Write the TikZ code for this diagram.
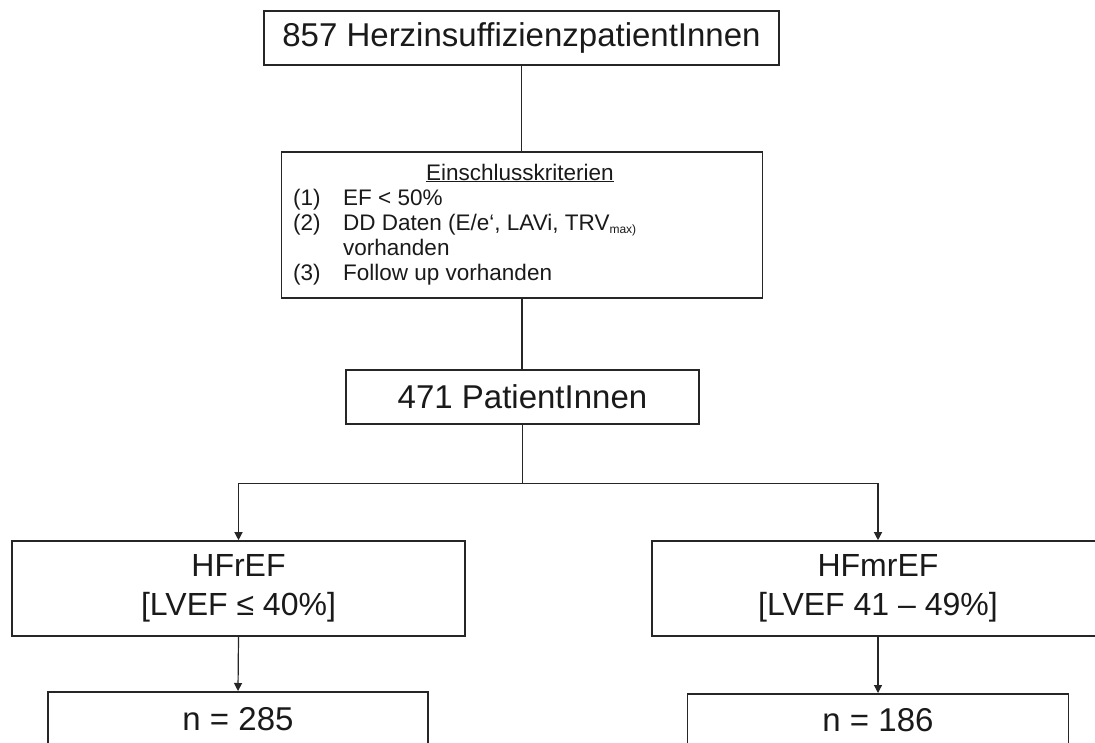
\documentclass[tikz,border=0pt]{standalone}
\usepackage{fontspec}
\setmainfont{Liberation Sans}
\usetikzlibrary{arrows.meta,calc}

\definecolor{boxline}{HTML}{262626}
\definecolor{ink}{HTML}{1A1A1A}

\tikzset{
  box/.style={draw=boxline, line width=1.6pt, inner sep=0pt, fill=white, text=ink},
  link/.style={draw=boxline, line width=1.2pt},
  arr/.style={link, -{Triangle[length=8pt,width=8pt]}},
  bigtext/.style={font=\fontsize{33}{40}\selectfont, text=ink},
  midtext/.style={font=\fontsize{32}{39}\selectfont, text=ink, align=center},
  crittext/.style={font=\fontsize{22.5}{25}\selectfont, text=ink, inner sep=0pt},
}

\begin{document}
\begin{tikzpicture}[x=1pt,y=-1pt]
\useasboundingbox (0,0) rectangle (1095,742);
\fill[white] (0,0) rectangle (1095,742);
\clip (0,0) rectangle (1095,742);

% overall cohort
\node[box, bigtext, minimum width=515pt, minimum height=54pt] (total) at (521.5,38)
  {857 HerzinsuffizienzpatientInnen};

% inclusion criteria
\node[box, minimum width=481pt, minimum height=146pt] (crit) at (522,225) {};
\node[crittext, anchor=base] (crittitle) at (520,180) {\underline{Einschlusskriterien}};
\node[crittext, anchor=base west] (c1num) at (293,205) {(1)};
\node[crittext, anchor=base west] (c1txt) at (343,205) {EF < 50\%};
\node[crittext, anchor=base west] (c2num) at (293,230) {(2)};
\node[crittext, anchor=base west] (c2txt) at (343,230)
  {DD Daten (E/e‘, LAVi, TRV\raisebox{-3.5pt}{\fontsize{12}{12}\selectfont max)}};
\node[crittext, anchor=base west] (c2cont) at (343,255) {vorhanden};
\node[crittext, anchor=base west] (c3num) at (293,280) {(3)};
\node[crittext, anchor=base west] (c3txt) at (343,280) {Follow up vorhanden};

% included patients
\node[box, bigtext, minimum width=353pt, minimum height=54pt] (incl) at (522.5,397)
  {471 PatientInnen};

% subgroups
\node[box, midtext, minimum width=453pt, minimum height=95pt] (hfr) at (238.5,588.5)
  {HFrEF\\ {[}LVEF ≤ 40\%{]}};
\node[box, midtext, minimum width=452pt, minimum height=95pt] (hfm) at (878,588.5)
  {HFmrEF\\ {[}LVEF 41 – 49\%{]}};

% group sizes
\node[box, anchor=north, minimum width=380pt, minimum height=110pt] (n1) at (238,691) {};
\node[bigtext, anchor=base, inner sep=0pt] (n1txt) at (238,730) {n = 285};
\node[box, anchor=north, minimum width=381pt, minimum height=110pt] (n2) at (878,693) {};
\node[bigtext, anchor=base, inner sep=0pt] (n2txt) at (878,731) {n = 186};

% connectors
\draw[link] (total.south) -- (total.south |- crit.north);
\draw[link] (crit.south) -- (crit.south |- incl.north);
\coordinate (split) at ($(incl.south)+(0,59)$);
\draw[link] (incl.south) -- (split);
\draw[arr] (split) -| (hfr.north);
\draw[arr] (split) -| (hfm.north);
\draw[arr] (hfr.south) -- (n1.north);
\draw[arr] (hfm.south) -- (n2.north);
\end{tikzpicture}
\end{document}
